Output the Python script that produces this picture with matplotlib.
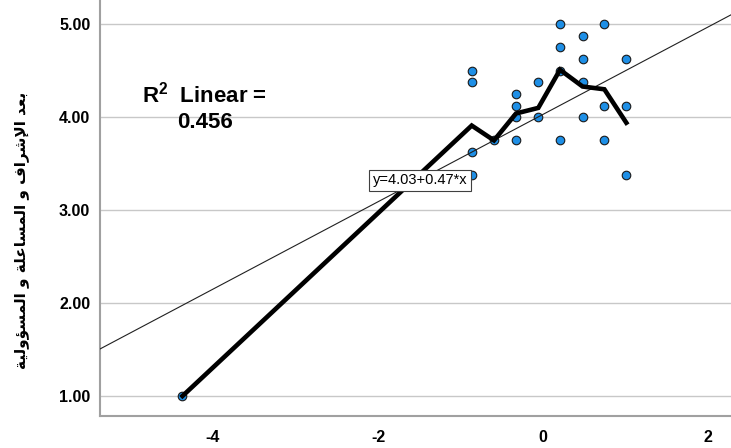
import numpy as np
import matplotlib
matplotlib.use('Agg')
import matplotlib.pyplot as plt

# data
x_levels = [-4.37, -0.864, -0.594, -0.327, -0.057, 0.206, 0.48, 0.744, 1.01]
points_x = [-4.37,
            -0.864, -0.864, -0.864, -0.864,
            -0.594,
            -0.327, -0.327, -0.327, -0.327,
            -0.057, -0.057,
            0.206, 0.206, 0.206, 0.206,
            0.48, 0.48, 0.48, 0.48,
            0.744, 0.744, 0.744,
            1.01, 1.01, 1.01]
points_y = [1.0,
            4.5, 4.375, 3.625, 3.375,
            3.75,
            4.25, 4.125, 4.0, 3.75,
            4.375, 4.0,
            5.0, 4.75, 4.5, 3.75,
            4.875, 4.625, 4.375, 4.0,
            5.0, 4.125, 3.75,
            4.625, 4.125, 3.375]
fit_y = [1.0, 3.91, 3.75, 4.04, 4.10, 4.51, 4.33, 4.30, 3.94]
intercept = 4.03
slope = 0.47
r2 = 0.456
y_ticks = [1.0, 2.0, 3.0, 4.0, 5.0]
x_ticks = [-4, -2, 0, 2]
y_label = 'بعد الإشراف و المساعلة و المسؤولية'

# minimal arabic shaping (matplotlib has no complex text layout)
FORMS = {
    'ا': (0xFE8D, 0xFE8E, None, None),
    'إ': (0xFE87, 0xFE88, None, None),
    'ب': (0xFE8F, 0xFE90, 0xFE91, 0xFE92),
    'ة': (0xFE93, 0xFE94, None, None),
    'د': (0xFEA9, 0xFEAA, None, None),
    'ر': (0xFEAD, 0xFEAE, None, None),
    'س': (0xFEB1, 0xFEB2, 0xFEB3, 0xFEB4),
    'ش': (0xFEB5, 0xFEB6, 0xFEB7, 0xFEB8),
    'ع': (0xFEC9, 0xFECA, 0xFECB, 0xFECC),
    'ف': (0xFED1, 0xFED2, 0xFED3, 0xFED4),
    'ل': (0xFEDD, 0xFEDE, 0xFEDF, 0xFEE0),
    'م': (0xFEE1, 0xFEE2, 0xFEE3, 0xFEE4),
    'و': (0xFEED, 0xFEEE, None, None),
    'ؤ': (0xFE85, 0xFE86, None, None),
    'ي': (0xFEF1, 0xFEF2, 0xFEF3, 0xFEF4),
    'ء': (0xFE80, None, None, None),
    'لا': (0xFEFB, 0xFEFC, None, None),
    'لإ': (0xFEF9, 0xFEFA, None, None),
}


def shape_arabic(text):
    units = []
    i = 0
    while i < len(text):
        if text[i] == 'ل' and i + 1 < len(text) and text[i + 1] in 'اإ':
            units.append(text[i:i + 2])
            i += 2
        else:
            units.append(text[i])
            i += 1
    out = []
    for k, u in enumerate(units):
        if u not in FORMS:
            out.append(u)
            continue
        iso, fin, ini, med = FORMS[u]
        prev = units[k - 1] if k > 0 else None
        nxt = units[k + 1] if k + 1 < len(units) else None
        join_prev = prev in FORMS and FORMS[prev][2] is not None
        join_next = ini is not None and nxt in FORMS
        if join_prev and join_next:
            out.append(chr(med))
        elif join_prev:
            out.append(chr(fin if fin else iso))
        elif join_next:
            out.append(chr(ini))
        else:
            out.append(chr(iso))
    return ''.join(out)[::-1]


plt.rcParams['font.family'] = ['Liberation Sans', 'DejaVu Sans']
plt.rcParams['axes.unicode_minus'] = False
plt.rcParams['mathtext.fontset'] = 'custom'
plt.rcParams['mathtext.bf'] = 'Liberation Sans:bold'
plt.rcParams['mathtext.rm'] = 'Liberation Sans'

fig = plt.figure(figsize=(7.31, 4.48), dpi=100)
ax = fig.add_axes([100 / 731, 32 / 448, 631 / 731, 415 / 448])

ax.set_xlim(-5.37, 2.279)
ax.set_ylim(0.785, 5.25)

for t in y_ticks:
    ax.axhline(t, color='#c8c8c8', lw=1.0, zorder=0)

ax.scatter(points_x, points_y, s=38, color='#1e8fe6', edgecolor='#1a1a1a',
           linewidth=0.8, zorder=2)

xx = np.array(ax.get_xlim())
ax.plot(xx, intercept + slope * xx, color='#202020', lw=0.8, zorder=3)
ax.plot(x_levels, fit_y, color='black', lw=3.3, zorder=4,
        solid_joinstyle='miter')

ax.text(-1.49, 3.32, 'y=%.2f+%.2f*x' % (intercept, slope), fontsize=10.5,
        ha='center', va='center', zorder=6,
        bbox=dict(boxstyle='square,pad=0.25', fc='white', ec='#404040', lw=0.8))

ax.text(-4.10, 4.11, r'$\mathbf{R^{2}}$  Linear =' + '\n%.3f' % r2,
        fontsize=16, fontweight='bold', ha='center', va='center',
        linespacing=1.3, zorder=6)

ax.set_xticks(x_ticks)
ax.set_yticks(y_ticks)
ax.set_yticklabels(['%.2f' % t for t in y_ticks])
ax.tick_params(length=0, labelsize=11.5)
ax.tick_params(axis='y', pad=7)
ax.tick_params(axis='x', pad=10)
for lab in ax.get_xticklabels() + ax.get_yticklabels():
    lab.set_fontweight('bold')

for s in ['top', 'right']:
    ax.spines[s].set_visible(False)
for s in ['left', 'bottom']:
    ax.spines[s].set_color('#a0a0a0')
    ax.spines[s].set_linewidth(1.5)

fig.text(22 / 731, 1 - 230 / 448, shape_arabic(y_label), rotation=90,
         ha='center', va='center', fontsize=11, fontweight='bold',
         family=['DejaVu Sans'])

fig.savefig('out.png', dpi=100, facecolor='white')
